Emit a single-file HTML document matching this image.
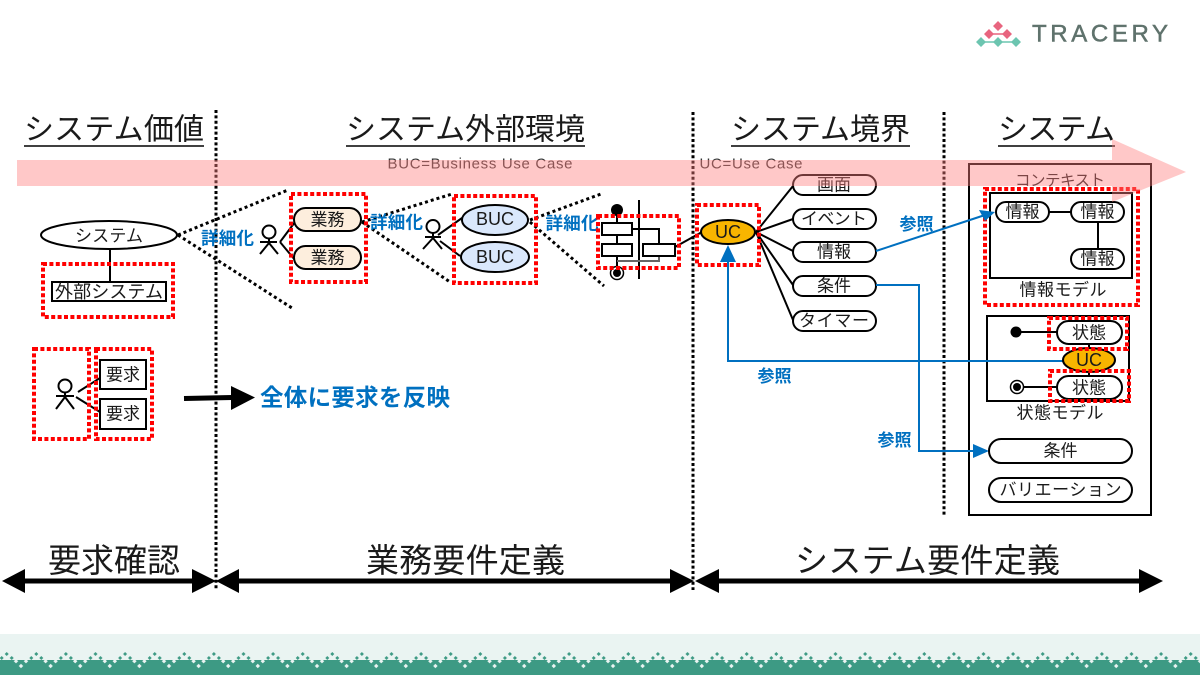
<!DOCTYPE html>
<html><head><meta charset="utf-8"><style>
html,body{margin:0;padding:0;background:#fff}
svg{display:block}
text{font-family:"Liberation Sans","Noto Sans CJK JP",sans-serif;fill:#1a1a1a;text-anchor:middle;dominant-baseline:central;transform:translateY(1px)}
.l{font-size:17px}
.b{font-family:"Noto Sans CJK JP","Liberation Sans",sans-serif;font-weight:700;fill:#0070c0;font-size:17px}
.h{font-size:30px;font-family:"Noto Sans CJK JP",sans-serif}
.f{font-size:33px;font-family:"Noto Sans CJK JP",sans-serif}
.s{fill:none;stroke:#000;stroke-width:2}
.w{fill:#fff;stroke:#000;stroke-width:2}
.r{fill:none;stroke:#f00;stroke-width:4;stroke-dasharray:4 2.4}
.d{fill:none;stroke:#000;stroke-width:3;stroke-dasharray:3 2.4}
.g{fill:none;stroke:#000;stroke-width:3;stroke-dasharray:3 3}
.u{fill:none;stroke:#0070c0;stroke-width:2}
</style></head><body>
<svg width="1200" height="675" viewBox="0 0 1200 675" xmlns="http://www.w3.org/2000/svg">
<defs>
<pattern id="ft" patternUnits="userSpaceOnUse" x="0" y="650" width="29.6" height="25">
<path d="M6.7 2l2 2-2 2-2-2zM1.700 6l2 2-2 2-2-2zM11.700 6l2 2-2 2-2-2zM31.300 6l2 2-2 2-2-2z" fill="#3d9a84"/>
<path d="M16 9l2.200 2.200-2.200 2.200-2.200-2.200zM26 9l2.200 2.200-2.200 2.200-2.200-2.200zM21 13.800l2.200 2.200-2.200 2.200-2.200-2.200z" fill="#eaf4f2"/>
</pattern>
</defs>

<!-- logo -->
<g>
<path d="M989 34H1007" stroke="#e8657f" stroke-width="1.600"/>
<path d="M981 42H1016" stroke="#6cc5b0" stroke-width="1.600"/>
<path d="M998 21l5 5-5 5-5-5zM989 29l5 5-5 5-5-5zM1007 29l5 5-5 5-5-5z" fill="#e8657f"/>
<path d="M981 37l5 5-5 5-5-5zM998 37l5 5-5 5-5-5zM1016 37l5 5-5 5-5-5z" fill="#6cc5b0"/>
<text x="1100" y="33" style="font-size:24px;fill:#5f726c;stroke:#5f726c;stroke-width:.5" textLength="136" lengthAdjust="spacing">TRACERY</text>
</g>

<!-- headings -->
<text class="h" x="114" y="125.500" textLength="180">システム価値</text>
<path d="M24 146H204" stroke="#000" stroke-width="1.600"/>
<text class="h" x="465.500" y="125.500" textLength="239">システム外部環境</text>
<path d="M346 146H585" stroke="#000" stroke-width="1.600"/>
<text class="h" x="820.500" y="125.500" textLength="179">システム境界</text>
<path d="M731 146H910" stroke="#000" stroke-width="1.600"/>
<text class="h" x="1056.500" y="125.500" textLength="117">システム</text>
<path d="M998 146H1115" stroke="#000" stroke-width="1.600"/>

<!-- vertical dotted -->
<path class="d" d="M216 110V590"/>
<path class="d" d="M693 112V590"/>
<path class="d" d="M944 112V516"/>

<!-- small captions -->
<text x="480" y="163" style="font-size:15px;fill:#333" textLength="185">BUC=Business Use Case</text>
<text x="751" y="163" style="font-size:15px;fill:#333" textLength="103">UC=Use Case</text>

<!-- system value -->
<path class="s" d="M110 248V283"/>
<ellipse class="w" cx="109" cy="235" rx="68" ry="14"/>
<text class="l" x="109" y="235" textLength="68">システム</text>
<rect class="w" x="52" y="282" width="114" height="19"/>
<text class="l" x="109" y="291" style="font-size:18px" textLength="108">外部システム</text>
<rect class="r" x="43" y="264" width="130" height="53"/>

<!-- requirements actor -->
<g class="s">
<circle cx="65" cy="386" r="6.500" fill="#fff"/>
<path d="M65 393V397M56 396H74M65 397L56 409M65 397L74 409M78 392L100 378M76 397L100 412"/>
</g>
<rect class="w" x="100" y="360" width="46" height="29"/>
<rect class="w" x="100" y="399" width="46" height="30"/>
<text class="l" x="123" y="374">要求</text>
<text class="l" x="123" y="413">要求</text>
<rect class="r" x="34" y="349" width="55" height="90"/>
<rect class="r" x="96" y="349" width="56" height="90"/>

<path d="M184 398.500L232 397.500" stroke="#000" stroke-width="5"/>
<path d="M231 386L255 397.500 231 410z" fill="#000"/>
<text class="b" x="355" y="394.500" style="font-size:23.500px" textLength="190">全体に要求を反映</text>

<!-- dotted expansions -->
<path class="g" d="M178 235L288 190M178 235L292 308"/>
<path class="g" d="M362 222L452 194M362 222L450 282"/>
<path class="g" d="M530 220L601 194M530 222L604 286"/>

<text class="b" x="227.500" y="237" style="font-size:17.500px" textLength="53">詳細化</text>
<text class="b" x="396.500" y="221" style="font-size:17.500px" textLength="53">詳細化</text>
<text class="b" x="572" y="222" style="font-size:17.500px" textLength="53">詳細化</text>

<!-- actor 2 -->
<g class="s">
<circle cx="269" cy="232" r="6.500" fill="#fff"/>
<path d="M269 239V243M260 242H277M269 243L260 254M269 243L278 254M280 242L295 222M280 242L295 260"/>
</g>
<rect class="w" x="294" y="208" width="67" height="23" rx="11.500" style="fill:#fdeedd"/>
<rect class="w" x="294" y="246" width="67" height="23" rx="11.500" style="fill:#fdeedd"/>
<text class="l" x="327.500" y="219">業務</text>
<text class="l" x="327.500" y="257">業務</text>
<rect class="r" x="291" y="194" width="75" height="88"/>

<!-- actor 3 -->
<g class="s">
<circle cx="433" cy="226.500" r="6.500" fill="#fff"/>
<path d="M433 233V238M425 237H441M433 238L423 249M433 238L442 249M438 235L462 218M440 241L460 256"/>
</g>
<ellipse class="w" cx="495" cy="220" rx="33" ry="15" style="fill:#dae8fc"/>
<ellipse class="w" cx="495" cy="257" rx="34" ry="15" style="fill:#dae8fc"/>
<text class="l" x="495" y="218" style="font-size:18px">BUC</text>
<text class="l" x="495" y="256" style="font-size:18px">BUC</text>
<rect class="r" x="454" y="196" width="82" height="87"/>

<!-- activity -->
<g class="s">
<path d="M617 210V275M639 200V279"/>
<path d="M632 229H659V244"/>
<path d="M617 261H659V256" stroke="#666"/>
<path d="M675 247L702 232"/>
</g>
<circle cx="617" cy="210" r="6" fill="#000"/>
<rect class="w" x="602" y="223" width="30" height="12"/>
<rect class="w" x="602" y="244" width="30" height="12"/>
<rect class="w" x="643" y="244" width="32" height="12"/>
<circle cx="617" cy="273" r="6.500" fill="#fff" stroke="#000" stroke-width="1.500"/>
<circle cx="617" cy="273" r="4" fill="#000"/>
<rect class="r" x="598" y="216" width="81" height="52"/>

<!-- UC branch -->
<path class="s" d="M756 232L793 186M756 232L793 219M756 232L793 251M756 232L793 285M756 232L793 320"/>
<ellipse class="w" cx="728" cy="232" rx="27" ry="12" style="fill:#f8b500"/>
<text class="l" x="728" y="231" style="font-size:18px">UC</text>
<rect class="r" x="697" y="205" width="62" height="60"/>
<rect class="w" x="793" y="175" width="83" height="20" rx="10"/>
<rect class="w" x="793" y="209" width="83" height="20" rx="10"/>
<rect class="w" x="793" y="242" width="83" height="20" rx="10"/>
<rect class="w" x="793" y="276" width="83" height="20" rx="10"/>
<rect class="w" x="793" y="311" width="83" height="20" rx="10"/>
<text class="l" x="834" y="184">画面</text>
<text class="l" x="834" y="218" textLength="66">イベント</text>
<text class="l" x="834" y="251">情報</text>
<text class="l" x="834" y="285">条件</text>
<text class="l" x="834" y="320" textLength="70">タイマー</text>

<!-- context -->
<rect x="969" y="164" width="182" height="351" fill="none" stroke="#000" stroke-width="2"/>
<text class="l" x="1060" y="180" style="font-size:15.500px" textLength="90">コンテキスト</text>

<rect x="990" y="193" width="142" height="85" fill="none" stroke="#000" stroke-width="2"/>
<path class="s" d="M1049 212H1071M1098 222V249"/>
<rect class="w" x="996" y="202" width="53" height="20" rx="10"/>
<rect class="w" x="1071" y="202" width="53" height="20" rx="10"/>
<rect class="w" x="1071" y="249" width="53" height="20" rx="10"/>
<text class="l" x="1022.500" y="211">情報</text>
<text class="l" x="1097.500" y="211">情報</text>
<text class="l" x="1097.500" y="258">情報</text>
<text class="l" x="1063" y="289" textLength="87">情報モデル</text>
<rect class="r" x="985" y="189" width="153" height="116"/>

<rect x="987" y="316" width="142" height="85" fill="none" stroke="#000" stroke-width="2"/>
<path class="s" d="M1016 332H1057M1024 387H1057M1089 344V376"/>
<circle cx="1016" cy="332" r="5.500" fill="#000"/>
<circle cx="1017" cy="387" r="6.500" fill="#fff" stroke="#000" stroke-width="1.500"/>
<circle cx="1017" cy="387" r="4" fill="#000"/>
<rect class="w" x="1057" y="321" width="65" height="23" rx="11.500"/>
<rect class="w" x="1057" y="376" width="65" height="23" rx="11.500"/>
<text class="l" x="1089" y="332">状態</text>
<text class="l" x="1089" y="387">状態</text>
<text class="l" x="1060" y="412" textLength="87">状態モデル</text>

<!-- blue references -->
<path class="u" d="M876 251L985 215"/>
<path d="M995 212L979 210 985 221z" fill="#0070c0"/>
<path class="u" d="M876 285H919V451H975"/>
<path d="M989 451L973 444V458z" fill="#0070c0"/>
<path class="u" d="M1063 361H728V262"/>
<path d="M728 245L720 262H736z" fill="#0070c0"/>
<text class="b" x="916.500" y="221.500">参照</text>
<text class="b" x="894.500" y="437.500">参照</text>
<text class="b" x="774.500" y="373.500">参照</text>

<ellipse class="w" cx="1089" cy="360" rx="26" ry="12" style="fill:#f8b500"/>
<text class="l" x="1089" y="359" style="font-size:18px">UC</text>
<rect class="r" x="1049" y="318" width="78" height="31"/>
<rect class="r" x="1050" y="371" width="79" height="30"/>

<rect class="w" x="989" y="439" width="143" height="24" rx="12"/>
<rect class="w" x="989" y="478" width="143" height="24" rx="12"/>
<text class="l" x="1060.500" y="450">条件</text>
<text class="l" x="1060.500" y="489" textLength="122">バリエーション</text>

<!-- pink arrow -->
<path d="M17 160H1112V139L1186 172 1112 202V186H17z" fill="rgb(255,128,128)" fill-opacity=".43"/>

<!-- bottom phase arrows -->
<path d="M20 581H195M235 581H675M715 581H1145" stroke="#000" stroke-width="5"/>
<path d="M2 581L25 569V593zM216 581L192 569V593zM216 581L239 569V593zM694 581L670 569V593zM695 581L719 569V593zM1163 581L1139 569V593z" fill="#000"/>
<text class="f" x="114" y="557" textLength="132">要求確認</text>
<text class="f" x="465.500" y="557" textLength="199">業務要件定義</text>
<text class="f" x="927.500" y="557" textLength="265">システム要件定義</text>

<!-- footer -->
<rect x="0" y="634" width="1200" height="41" fill="#eaf4f2"/>
<rect x="0" y="660" width="1200" height="15" fill="#3d9a84"/>
<rect x="0" y="650" width="1200" height="25" fill="url(#ft)"/>
</svg>
</body></html>
